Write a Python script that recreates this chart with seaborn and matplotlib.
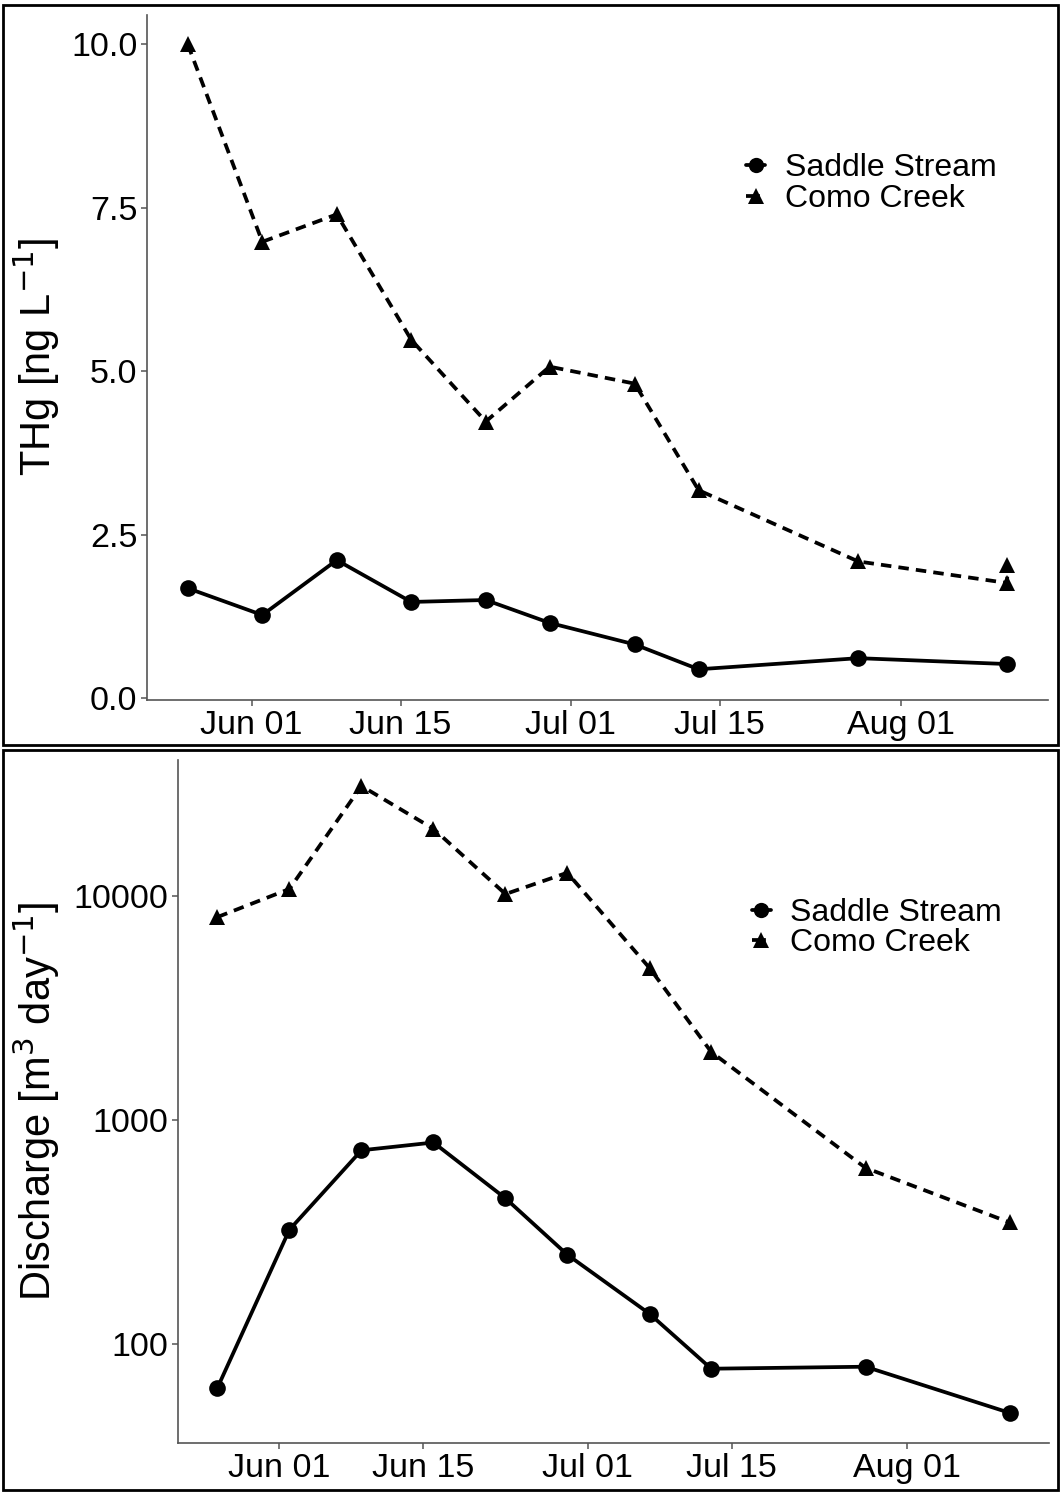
import matplotlib
matplotlib.use("Agg")
import matplotlib.pyplot as plt
import matplotlib.dates as mdates
import matplotlib.ticker as mticker
from matplotlib.lines import Line2D
from matplotlib.patches import Rectangle
import numpy as np
import pandas as pd
import seaborn as sns

sns.set_theme(style="white")
plt.rcParams["font.family"] = ["Liberation Sans", "DejaVu Sans"]
plt.rcParams["text.color"] = "black"
plt.rcParams["axes.labelcolor"] = "black"

# Sampling dates
saddle_dates = ["2019-05-26", "2019-06-02", "2019-06-09", "2019-06-16", "2019-06-23",
                "2019-06-29", "2019-07-07", "2019-07-13", "2019-07-28", "2019-08-11"]
como_dates_thg = ["2019-05-26", "2019-06-02", "2019-06-09", "2019-06-16", "2019-06-23",
                  "2019-06-29", "2019-07-07", "2019-07-13", "2019-07-28", "2019-08-11",
                  "2019-08-11"]
como_dates_q = saddle_dates

# Total mercury [ng L-1]
saddle_thg = [1.68, 1.27, 2.11, 1.47, 1.50, 1.15, 0.82, 0.44, 0.61, 0.52]
como_thg = [10.0, 6.98, 7.40, 5.48, 4.23, 5.07, 4.81, 3.18, 2.09, 1.76, 2.03]

# Discharge [m3 day-1]
saddle_q = [63.5, 323, 731, 792, 446, 250, 136, 77.3, 78.9, 49.1]
como_q = [8050, 10750, 31000, 19950, 10200, 12700, 4770, 2010, 610, 348]

sites = ["Saddle Stream", "Como Creek"]
tick_dates = ["2019-06-01", "2019-06-15", "2019-07-01", "2019-07-15", "2019-08-01"]

thg = pd.DataFrame({
    "date": pd.to_datetime(saddle_dates + como_dates_thg),
    "value": saddle_thg + como_thg,
    "site": [sites[0]] * len(saddle_thg) + [sites[1]] * len(como_thg),
})
dis = pd.DataFrame({
    "date": pd.to_datetime(saddle_dates + como_dates_q),
    "value": saddle_q + como_q,
    "site": [sites[0]] * len(saddle_q) + [sites[1]] * len(como_q),
})

LW = 2.7
DASH = (2.8, 1.9)
styles = {sites[0]: "", sites[1]: DASH}
markers = {sites[0]: "o", sites[1]: "^"}
palette = {sites[0]: "black", sites[1]: "black"}

fig = plt.figure(figsize=(10.63, 14.92), dpi=100)

# panel frames
fig.patches.append(Rectangle((3 / 1063, 1 - 745 / 1492), 1055 / 1063, 740 / 1492,
                             transform=fig.transFigure, fill=False,
                             edgecolor="black", linewidth=2))
fig.patches.append(Rectangle((3 / 1063, 1 - 1490 / 1492), 1055 / 1063, 740 / 1492,
                             transform=fig.transFigure, fill=False,
                             edgecolor="black", linewidth=2))

ax1 = fig.add_axes([147 / 1063, 1 - 700 / 1492, 901 / 1063, 685 / 1492])
ax2 = fig.add_axes([178 / 1063, 1 - 1443 / 1492, 871 / 1063, 683 / 1492])

for ax, df in [(ax1, thg), (ax2, dis)]:
    sns.lineplot(data=df, x="date", y="value", hue="site", style="site",
                 palette=palette, dashes=styles, markers=markers,
                 estimator=None, sort=False, linewidth=LW, markersize=12,
                 markeredgewidth=0, legend=False, ax=ax)

tick_pos = pd.to_datetime(tick_dates)
xlo, xhi = pd.Timestamp("2019-05-22 04:00"), pd.Timestamp("2019-08-14 20:00")

TICK_FS = 24.5
LEG_FS = 23
LABEL_FS = 30
for ax in (ax1, ax2):
    ax.set_xlim(xlo, xhi)
    ax.set_xticks(tick_pos)
    ax.xaxis.set_major_formatter(mdates.DateFormatter("%b %d"))
    ax.set_xlabel("")
    for s in ("top", "right"):
        ax.spines[s].set_visible(False)
    for s in ("left", "bottom"):
        ax.spines[s].set_color("#555555")
        ax.spines[s].set_linewidth(1.2)
    ax.tick_params(axis="both", which="major", length=4, width=1.1, color="#555555",
                   labelsize=TICK_FS, labelcolor="black", pad=3, direction="out",
                   bottom=True, left=True)
    ax.tick_params(axis="y", which="minor", left=False)

ax1.set_ylim(-0.03, 10.45)
ax1.set_yticks([0, 2.5, 5.0, 7.5, 10.0])
ax1.yaxis.set_major_formatter(mticker.FormatStrFormatter("%.1f"))
ax1.set_ylabel(r"THg [ng L$^{-1}$]", fontsize=LABEL_FS, color="black")
ax1.yaxis.set_label_coords(-0.094, 0.5)

ax2.set_yscale("log")
ax2.set_ylim(36, 40500)
ax2.set_yticks([100, 1000, 10000])
ax2.yaxis.set_major_formatter(mticker.FuncFormatter(lambda v, p: f"{v:.0f}"))
ax2.yaxis.set_minor_locator(mticker.NullLocator())
ax2.set_ylabel(r"Discharge [m$^{3}$ day$^{-1}$]", fontsize=LABEL_FS, color="black")
ax2.yaxis.set_label_coords(-0.133, 0.5)

handles = [
    Line2D([], [], color="black", linestyle="-", linewidth=LW, marker="o",
           markersize=11, markeredgewidth=0),
    Line2D([], [], color="black", linestyle="--", linewidth=LW, marker="^",
           markersize=11, markeredgewidth=0),
]
for ax, loc in [(ax1, (0.651, 0.817)), (ax2, (0.644, 0.817))]:
    leg = ax.legend(handles, sites, loc="upper left", bbox_to_anchor=loc,
                    frameon=False, fontsize=LEG_FS, handlelength=0.6,
                    handletextpad=0.6, labelspacing=0.02, borderaxespad=0)
    for t in leg.get_texts():
        t.set_color("black")

fig.savefig("out.png", dpi=100)
